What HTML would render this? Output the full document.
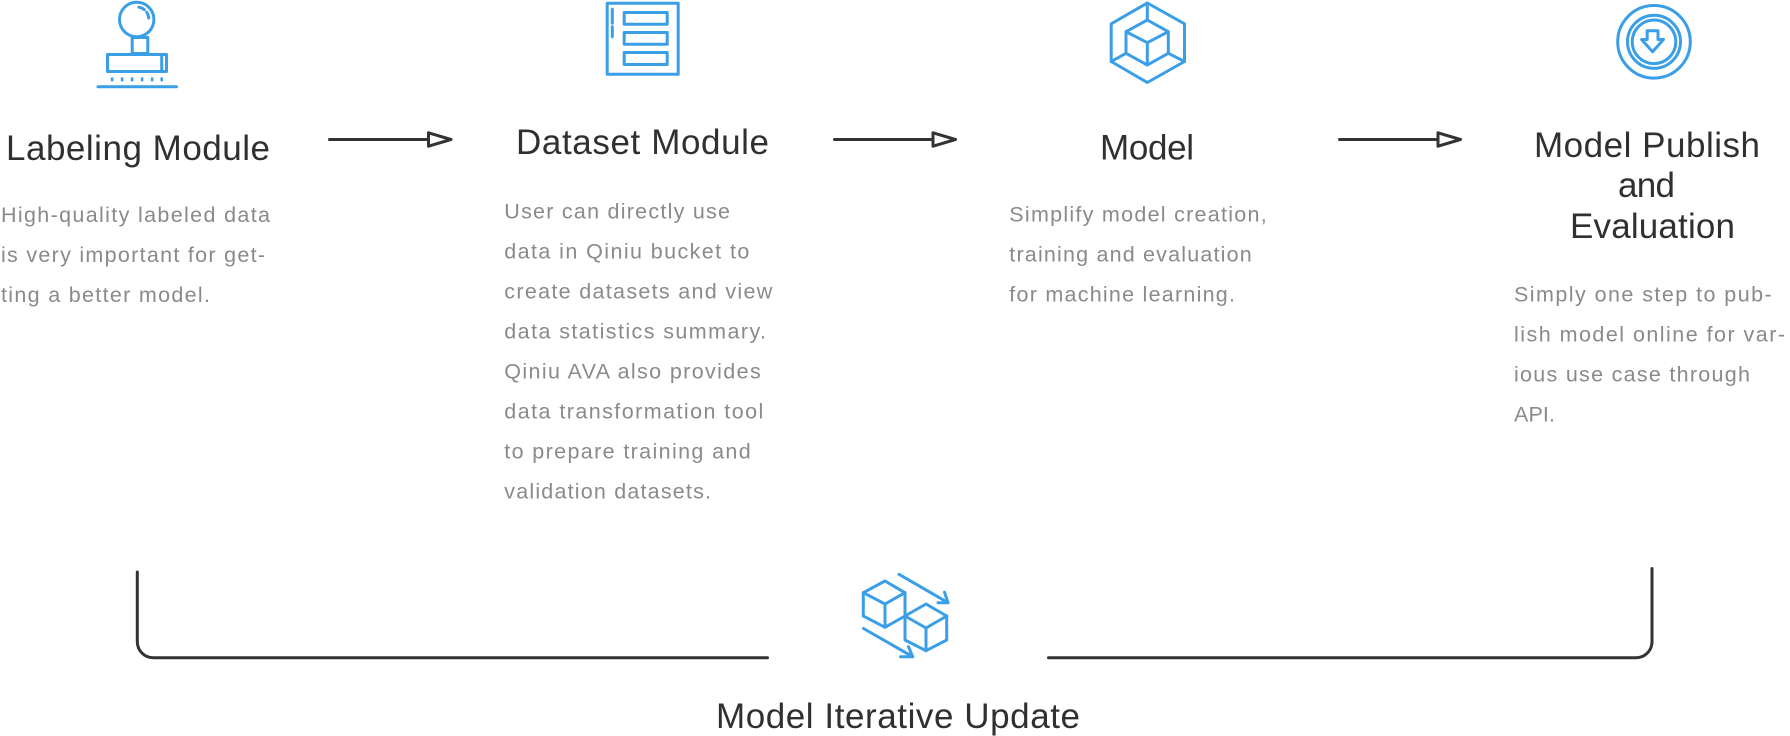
<!DOCTYPE html>
<html>
<head>
<meta charset="utf-8">
<style>
  html, body { margin: 0; padding: 0; background: #ffffff; }
  body { width: 1790px; height: 736px; overflow: hidden; }
  svg { display: block; }
  .h { font-family: "Liberation Sans", Arial, sans-serif; font-size: 35px; fill: #303030; }
  .b { font-family: "Liberation Sans", Arial, sans-serif; font-size: 21.5px; fill: #8a8a8a; }
  .ic { fill: none; stroke: #3a9fe6; stroke-width: 3; stroke-linejoin: round; stroke-linecap: round; }
  .ln { fill: none; stroke: #333333; stroke-width: 3; stroke-linecap: round; stroke-linejoin: round; }
</style>
</head>
<body>
<svg width="1790" height="736" viewBox="0 0 1790 736" xmlns="http://www.w3.org/2000/svg">
  <rect x="0" y="0" width="1790" height="736" fill="#ffffff"/>

  <!-- ============ Icon 1: stamp ============ -->
  <g class="ic">
    <circle cx="136.7" cy="19.5" r="17.2"/>
    <path d="M138.9,7.2 A12.2 12.2 0 0 1 148.8,20" stroke-dasharray="6 3.5"/>
    <rect x="132.2" y="37.5" width="15.6" height="16"/>
    <rect x="107.5" y="54.5" width="59" height="17"/>
    <line x1="161.7" y1="55" x2="161.7" y2="71"/>
    <line x1="98" y1="86.7" x2="176.5" y2="86.7"/>
  </g>
  <g fill="#3a9fe6">
    <rect x="110.8" y="77.3" width="2.6" height="4.2" rx="1"/>
    <rect x="120.8" y="77.3" width="2.6" height="4.2" rx="1"/>
    <rect x="130.8" y="77.3" width="2.6" height="4.2" rx="1"/>
    <rect x="140.8" y="77.3" width="2.6" height="4.2" rx="1"/>
    <rect x="150.8" y="77.3" width="2.6" height="4.2" rx="1"/>
    <rect x="160.4" y="77.3" width="2.6" height="4.2" rx="1"/>
  </g>

  <!-- ============ Icon 2: dataset ============ -->
  <g class="ic" stroke-linecap="butt">
    <rect x="607.2" y="3.2" width="71" height="71"/>
    <rect x="624.2" y="12.5" width="43" height="11.8"/>
    <rect x="624.2" y="32.5" width="43" height="11.8"/>
    <rect x="624.2" y="52.5" width="43" height="12"/>
    <line x1="612.3" y1="9.3" x2="612.3" y2="23.3"/>
    <line x1="612.3" y1="26.7" x2="612.3" y2="36.7"/>
  </g>

  <!-- ============ Icon 3: cube ============ -->
  <g class="ic">
    <polygon points="1147.3,3 1184.5,23.8 1184.5,61.5 1147.3,82.5 1111.2,61.5 1111.2,23.8"/>
    <line x1="1147.3" y1="3" x2="1147.3" y2="20"/>
    <line x1="1111.2" y1="61.5" x2="1126" y2="53.3"/>
    <line x1="1184.5" y1="61.5" x2="1168.3" y2="53.3"/>
    <polygon points="1147.3,20 1168.3,31.7 1168.3,53.3 1147.3,65 1126,53.3 1126,31.7"/>
    <polyline points="1126,31.7 1147.3,42.7 1168.3,31.7"/>
    <line x1="1147.3" y1="42.7" x2="1147.3" y2="65"/>
  </g>

  <!-- ============ Icon 4: publish ============ -->
  <g class="ic">
    <circle cx="1654" cy="41.8" r="36.3"/>
    <circle cx="1654" cy="41.8" r="26.5"/>
    <circle cx="1654" cy="41.8" r="21.8"/>
    <polygon points="1647.2,30.8 1658,30.8 1658,39.5 1663.5,39.5 1652.6,51.8 1641.6,39.5 1647.2,39.5"/>
  </g>

  <!-- ============ Headings ============ -->
  <text class="h" x="6" y="160" textLength="264" lengthAdjust="spacing">Labeling Module</text>
  <text class="h" x="516" y="154" textLength="253" lengthAdjust="spacing">Dataset Module</text>
  <text class="h" x="1100" y="159.3" textLength="94" lengthAdjust="spacing">Model</text>
  <text class="h" x="1534" y="157" textLength="226" lengthAdjust="spacing">Model Publish</text>
  <text class="h" x="1618" y="197" textLength="57" lengthAdjust="spacing">and</text>
  <text class="h" x="1570" y="238" textLength="165" lengthAdjust="spacing">Evaluation</text>

  <!-- ============ Arrows ============ -->
  <g class="ln">
    <line x1="329.5" y1="139.5" x2="428" y2="139.5"/>
    <polygon points="428.5,132.8 451,139.5 428.5,146.2" fill="#ffffff"/>
    <line x1="834.5" y1="139.5" x2="933" y2="139.5"/>
    <polygon points="933,132.8 955.5,139.5 933,146.2" fill="#ffffff"/>
    <line x1="1339.5" y1="139.5" x2="1438" y2="139.5"/>
    <polygon points="1438,132.8 1460.5,139.5 1438,146.2" fill="#ffffff"/>
  </g>

  <!-- ============ Body text ============ -->
  <text class="b" x="1" y="222" textLength="269" lengthAdjust="spacing">High-quality labeled data</text>
  <text class="b" x="1" y="262" textLength="264" lengthAdjust="spacing">is very important for get-</text>
  <text class="b" x="1" y="302" textLength="209" lengthAdjust="spacing">ting a better model.</text>

  <text class="b" x="504.3" y="218.3" textLength="225.7" lengthAdjust="spacing">User can directly use</text>
  <text class="b" x="504.3" y="258.3" textLength="245" lengthAdjust="spacing">data in Qiniu bucket to</text>
  <text class="b" x="504.3" y="298.3" textLength="268" lengthAdjust="spacing">create datasets and view</text>
  <text class="b" x="504.3" y="338.3" textLength="261.7" lengthAdjust="spacing">data statistics summary.</text>
  <text class="b" x="504.3" y="378.3" textLength="256.4" lengthAdjust="spacing">Qiniu AVA also provides</text>
  <text class="b" x="504.3" y="418.3" textLength="259" lengthAdjust="spacing">data transformation tool</text>
  <text class="b" x="504.3" y="458.3" textLength="246.4" lengthAdjust="spacing">to prepare training and</text>
  <text class="b" x="504.3" y="498.3" textLength="206.7" lengthAdjust="spacing">validation datasets.</text>

  <text class="b" x="1009.3" y="221.7" textLength="257.4" lengthAdjust="spacing">Simplify model creation,</text>
  <text class="b" x="1009.3" y="261.7" textLength="242.4" lengthAdjust="spacing">training and evaluation</text>
  <text class="b" x="1009.3" y="301.7" textLength="225.7" lengthAdjust="spacing">for machine learning.</text>

  <text class="b" x="1514" y="301.7" textLength="257.7" lengthAdjust="spacing">Simply one step to pub-</text>
  <text class="b" x="1514" y="341.7" textLength="271" lengthAdjust="spacing">lish model online for var-</text>
  <text class="b" x="1514" y="381.7" textLength="236" lengthAdjust="spacing">ious use case through</text>
  <text class="b" x="1514" y="421.7" textLength="41" lengthAdjust="spacing">API.</text>

  <!-- ============ Bottom bracket ============ -->
  <g class="ln">
    <path d="M137.3,572 V641.7 A16 16 0 0 0 153.3,657.7 H767.5"/>
    <path d="M1048.5,657.7 H1636 A16 16 0 0 0 1652,641.7 V568.5"/>
  </g>

  <!-- ============ Iterative update icon ============ -->
  <g class="ic">
    <polygon points="885,581 905,592.7 905,616 885,627.3 863.3,616 863.3,592.7"/>
    <polyline points="863.3,592.7 885,604 905,592.7"/>
    <line x1="885" y1="604" x2="885" y2="627.3"/>
    <polygon points="926,604 946.7,616 946.7,640 926,650.7 905,640 905,616"/>
    <polyline points="905,616 926,628 946.7,616"/>
    <line x1="926" y1="628" x2="926" y2="650.7"/>
    <line x1="899" y1="574.3" x2="948" y2="602.7"/>
    <polyline points="944.5,592.2 948,602.7 938,602.7"/>
    <line x1="863.5" y1="628.5" x2="912.7" y2="656.7"/>
    <polyline points="908.5,646.7 912.7,656.7 900.5,656.7"/>
  </g>

  <text class="h" x="716" y="728" textLength="364" lengthAdjust="spacing">Model Iterative Update</text>
</svg>
</body>
</html>
